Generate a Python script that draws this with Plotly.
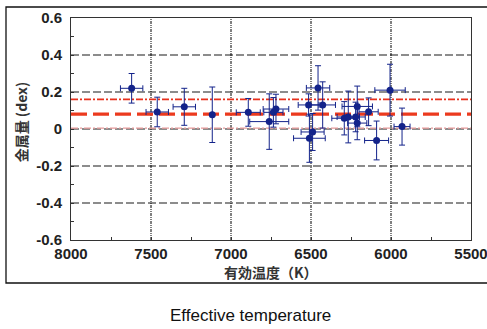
import plotly.graph_objects as go

# Data
teff = [7621, 7461, 7292, 7117, 6892, 6761, 6735, 6719, 6515, 6456, 6427, 6490, 6510,
        6292, 6267, 6221, 6211, 6211, 6140, 6090, 6006, 5931]
feh = [0.22, 0.092, 0.12, 0.077, 0.09, 0.04, 0.09, 0.108, 0.13, 0.222, 0.13, -0.016, -0.05,
       0.058, 0.065, 0.065, 0.122, 0.032, 0.093, -0.062, 0.21, 0.013]
teff_err = [70, 70, 70, 0, 75, 122, 60, 80, 65, 73, 80, 72, 99,
            78, 70, 60, 95, 60, 60, 75, 95, 50]
feh_err = [0.08, 0.08, 0.10, 0.15, 0.075, 0.15, 0.08, 0.08, 0.06, 0.12, 0.125, 0.10, 0.13,
           0.09, 0.14, 0.08, 0.11, 0.09, 0.075, 0.105, 0.14, 0.10]

mean_feh = 0.08
upper_feh = 0.16
lower_feh = 0.005

x_ticks = [8000, 7500, 7000, 6500, 6000, 5500]
y_ticks = [-0.6, -0.4, -0.2, 0, 0.2, 0.4, 0.6]
x_grid = [7500, 7000, 6500, 6000]
y_grid = [-0.4, -0.2, 0, 0.2, 0.4]

navy = "#13238a"

fig = go.Figure()
fig.add_trace(go.Scatter(
    x=teff, y=feh, mode="markers",
    marker=dict(color=navy, size=7),
    error_x=dict(type="data", array=teff_err, color=navy, thickness=1, width=3),
    error_y=dict(type="data", array=feh_err, color=navy, thickness=1, width=3),
    showlegend=False,
))

shapes = []
for yv in y_grid:
    shapes.append(dict(type="line", xref="x", yref="y", x0=8000, x1=5500, y0=yv, y1=yv,
                       line=dict(color="#1a1a1a", width=1.1, dash="8px,3px"), layer="below"))
for xv in x_grid:
    shapes.append(dict(type="line", xref="x", yref="y", x0=xv, x1=xv, y0=-0.6, y1=0.6,
                       line=dict(color="#000000", width=1, dash="3px,1px,1px,1px,1px,1px"), layer="below"))
# red reference lines
shapes.append(dict(type="line", xref="x", yref="y", x0=8000, x1=5500, y0=upper_feh, y1=upper_feh,
                   line=dict(color="#e8301c", width=1.6, dash="7px,2px,2px,2px"), layer="below"))
shapes.append(dict(type="line", xref="x", yref="y", x0=8000, x1=5500, y0=lower_feh, y1=lower_feh,
                   line=dict(color="#e89a9a", width=1.4, dash="7px,2px,2px,2px"), layer="below"))
shapes.append(dict(type="line", xref="x", yref="y", x0=8000, x1=5500, y0=mean_feh, y1=mean_feh,
                   line=dict(color="#ec3a1e", width=3.2, dash="16px,6px"), layer="below"))
# outer frame
shapes.append(dict(type="rect", xref="paper", yref="paper", x0=-0.1625, x1=1.06, y0=-0.1937, y1=1.0495,
                   line=dict(color="#111111", width=1.3), fillcolor="rgba(0,0,0,0)"))

fig.update_layout(
    width=487, height=329,
    margin=dict(l=71, r=16, t=18, b=89, autoexpand=False),
    paper_bgcolor="white", plot_bgcolor="white",
    shapes=shapes,
    font=dict(family="Liberation Sans, Arial, sans-serif", color="#111111"),
    xaxis=dict(
        range=[8000, 5500], tickvals=x_ticks, ticktext=[str(v) for v in x_ticks],
        showgrid=False, zeroline=False, showline=True, mirror=True,
        linecolor="#333333", linewidth=1, automargin=False, ticklabeloverflow="allow",
        ticks="inside", ticklen=3, tickcolor="#333333",
        minor=dict(tickvals=[7750, 7250, 6750, 6250, 5750], ticks="inside", ticklen=3, tickcolor="#333333"),
        tickfont=dict(size=15, family="Liberation Sans, Arial, sans-serif", weight="bold", color="#222222"),
    ),
    yaxis=dict(
        range=[-0.6, 0.6], tickvals=y_ticks, ticktext=["-0.6", "-0.4", "-0.2", "0", "0.2", "0.4", "0.6"],
        showgrid=False, zeroline=False, showline=True, mirror=True,
        linecolor="#333333", linewidth=1, automargin=False,
        ticks="inside", ticklen=3, tickcolor="#333333",
        minor=dict(tickvals=[-0.5, -0.3, -0.1, 0.1, 0.3, 0.5], ticks="inside", ticklen=3, tickcolor="#333333"),
        tickfont=dict(size=15, family="Liberation Sans, Arial, sans-serif", weight="bold", color="#222222"),
        ticklabelstandoff=5,
    ),
    annotations=[
        dict(text="<b>金属量 (dex)</b>", xref="paper", yref="paper", x=-0.125, y=0.53,
             textangle=-90, showarrow=False, xanchor="center", yanchor="middle",
             font=dict(size=14, family="Noto Sans CJK JP, sans-serif", color="#333333")),
        dict(text="<b>有効温度（K）</b>", xref="paper", yref="paper", x=0.5, y=-0.144,
             showarrow=False, xanchor="center", yanchor="middle",
             font=dict(size=14, family="Noto Sans CJK JP, sans-serif", color="#333333")),
        dict(text="Effective temperature", xref="paper", yref="paper", x=0.4475, y=-0.338,
             showarrow=False, xanchor="center", yanchor="middle",
             font=dict(size=17, family="Liberation Sans, Arial, sans-serif", color="#111111")),
    ],
)

fig.write_html("out.html")
